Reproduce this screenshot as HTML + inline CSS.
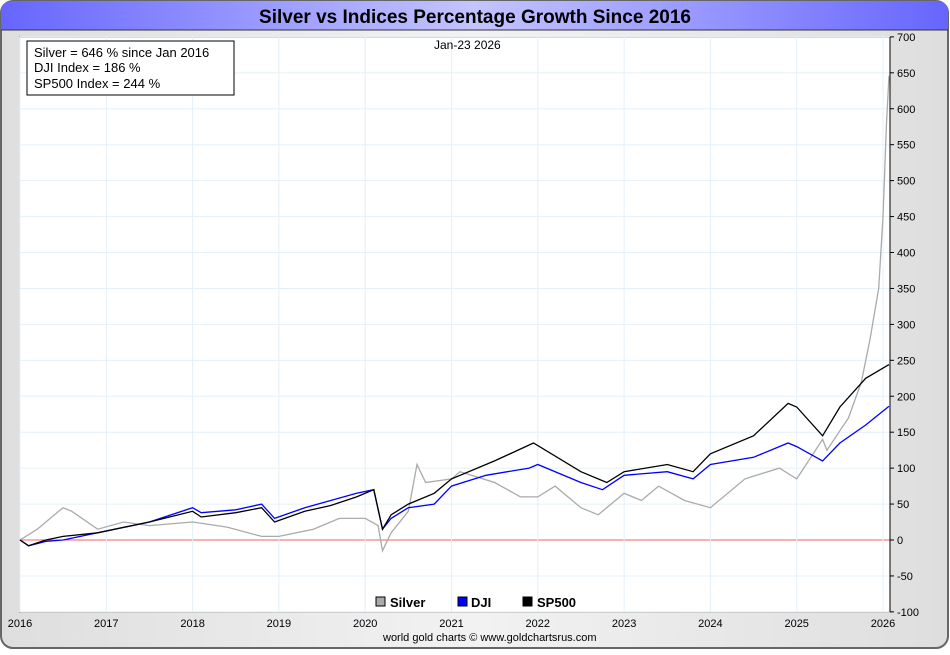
<!DOCTYPE html>
<html><head><meta charset="utf-8"><style>
body{margin:0;width:950px;height:650px;overflow:hidden;font-family:"Liberation Sans",sans-serif;background:#fff}
</style></head><body>
<svg width="950" height="650" xmlns="http://www.w3.org/2000/svg">
<defs>
<linearGradient id="tb" x1="0" x2="1"><stop offset="0" stop-color="#6666ff"/><stop offset="0.5" stop-color="#c4c4ff"/><stop offset="1" stop-color="#6666ff"/></linearGradient>
<linearGradient id="bg" x1="0" x2="1"><stop offset="0" stop-color="#dedede"/><stop offset="0.5" stop-color="#f2f2f2"/><stop offset="1" stop-color="#dedede"/></linearGradient>
</defs>
<rect x="1" y="1" width="947" height="647" rx="12" fill="url(#bg)" stroke="#666" stroke-width="2"/>
<path d="M1,30 L1,13 Q1,1 13,1 L936,1 Q948,1 948,13 L948,30 Z" fill="url(#tb)"/>
<line x1="1" y1="30" x2="948" y2="30" stroke="#333" stroke-width="1"/>
<text x="475" y="23" text-anchor="middle" font-size="19" font-weight="bold" fill="#000">Silver vs Indices Percentage Growth Since 2016</text>
<rect x="20" y="37" width="870" height="575" fill="#fff" stroke="#000" stroke-width="1"/>
<g id="grid"></g>
<g id="axes"></g>
<g id="series"></g>
<rect x="27" y="41" width="207" height="54" fill="#fff" stroke="#000"/>
<text x="34" y="57" font-size="13">Silver = 646 % since Jan 2016</text>
<text x="34" y="72" font-size="13">DJI Index = 186 %</text>
<text x="34" y="88" font-size="13">SP500 Index = 244 %</text>
<text x="434" y="49" font-size="12">Jan-23  2026</text>
<g>
<rect x="376" y="597" width="9" height="9" fill="#aaa" stroke="#000"/>
<text x="390" y="607" font-size="13" font-weight="bold">Silver</text>
<rect x="458" y="597" width="9" height="9" fill="#00f" stroke="#000"/>
<text x="471" y="607" font-size="13" font-weight="bold">DJI</text>
<rect x="523" y="597" width="9" height="9" fill="#000" stroke="#000"/>
<text x="537" y="607" font-size="13" font-weight="bold">SP500</text>
</g>
<text x="383" y="641" font-size="11">world gold charts © www.goldchartsrus.com</text>
</svg>
<script>
const yearTicks=[2016,2017,2018,2019,2020,2021,2022,2023,2024,2025,2026];
const yTicks=[-100,-50,0,50,100,150,200,250,300,350,400,450,500,550,600,650,700];
const silverT=[2016,2016.2,2016.4,2016.5,2016.6,2016.9,2017.2,2017.5,2018,2018.4,2018.8,2019,2019.4,2019.7,2020,2020.15,2020.2,2020.3,2020.5,2020.6,2020.7,2021,2021.1,2021.5,2021.8,2022,2022.2,2022.5,2022.7,2023,2023.2,2023.4,2023.7,2024,2024.4,2024.8,2025,2025.3,2025.35,2025.6,2025.75,2025.85,2025.95,2026,2026.04,2026.07];
const silverV=[0,15,35,45,40,15,25,20,25,18,5,5,15,30,30,20,-15,10,40,105,80,85,95,80,60,60,75,45,35,65,55,75,55,45,85,100,85,140,125,170,220,280,350,450,580,646];
const djiT=[2016,2016.1,2016.3,2016.5,2016.9,2017.5,2018,2018.1,2018.5,2018.8,2018.95,2019.3,2019.6,2019.9,2020.1,2020.2,2020.3,2020.5,2020.8,2021,2021.4,2021.9,2022,2022.5,2022.75,2023,2023.5,2023.8,2024,2024.5,2024.9,2025,2025.3,2025.5,2025.8,2026.07];
const djiV=[0,-8,-2,0,10,25,45,38,42,50,30,45,55,65,70,15,30,45,50,75,90,100,105,80,70,90,95,85,105,115,135,130,110,135,160,186];
const spT=[2016,2016.1,2016.3,2016.5,2016.9,2017.5,2018,2018.1,2018.5,2018.8,2018.95,2019.3,2019.6,2019.9,2020.1,2020.2,2020.3,2020.5,2020.8,2021,2021.5,2021.95,2022.5,2022.8,2023,2023.5,2023.8,2024,2024.5,2024.9,2025,2025.3,2025.5,2025.8,2026.07];
const spV=[0,-8,0,5,10,25,40,32,38,45,25,40,48,60,70,15,35,50,65,85,110,135,95,80,95,105,95,120,145,190,185,145,185,225,244];
const X=t=>20+(t-2016)*86.3;
const Y=v=>540-v*0.71875;
const NS="http://www.w3.org/2000/svg";
function mk(tag,attrs,parent){const e=document.createElementNS(NS,tag);for(const k in attrs)e.setAttribute(k,attrs[k]);parent.appendChild(e);return e;}
const grid=document.getElementById('grid'),axes=document.getElementById('axes'),series=document.getElementById('series');
yTicks.forEach(v=>{
  const g=mk('line',{x1:20,x2:890,y1:Y(v),y2:Y(v),stroke:v===0?'#f06060':'#e4f0f8','stroke-width':1},grid);
  
  
  const tk=mk('line',{x1:890,x2:894,y1:Y(v),y2:Y(v),stroke:'#000'},axes);
  
  
  const t=mk('text',{x:897,y:Y(v)+4,'font-size':11},axes);t.textContent=v;
  
  
});
yearTicks.forEach(yr=>{
  const g=mk('line',{x1:X(yr),x2:X(yr),y1:37,y2:612,stroke:'#e4f0f8'},grid);
  
  
  const t=mk('text',{x:X(yr),y:627,'font-size':11,'text-anchor':'middle'},axes);t.textContent=yr;
  
  
});
const ax=mk('line',{x1:890,x2:890,y1:37,y2:612,stroke:'#000'},axes);


function line(T,V,color,name){
  const p=mk('polyline',{points:T.map((t,i)=>X(t).toFixed(1)+','+Y(V[i]).toFixed(1)).join(' '),fill:'none',stroke:color,'stroke-width':1.3},series);
  
  
}
line(silverT,silverV,'#aaaaaa','silver-line');
line(djiT,djiV,'#0000ff','dji-line');
line(spT,spV,'#000000','sp500-line');
</script>
</body></html>
